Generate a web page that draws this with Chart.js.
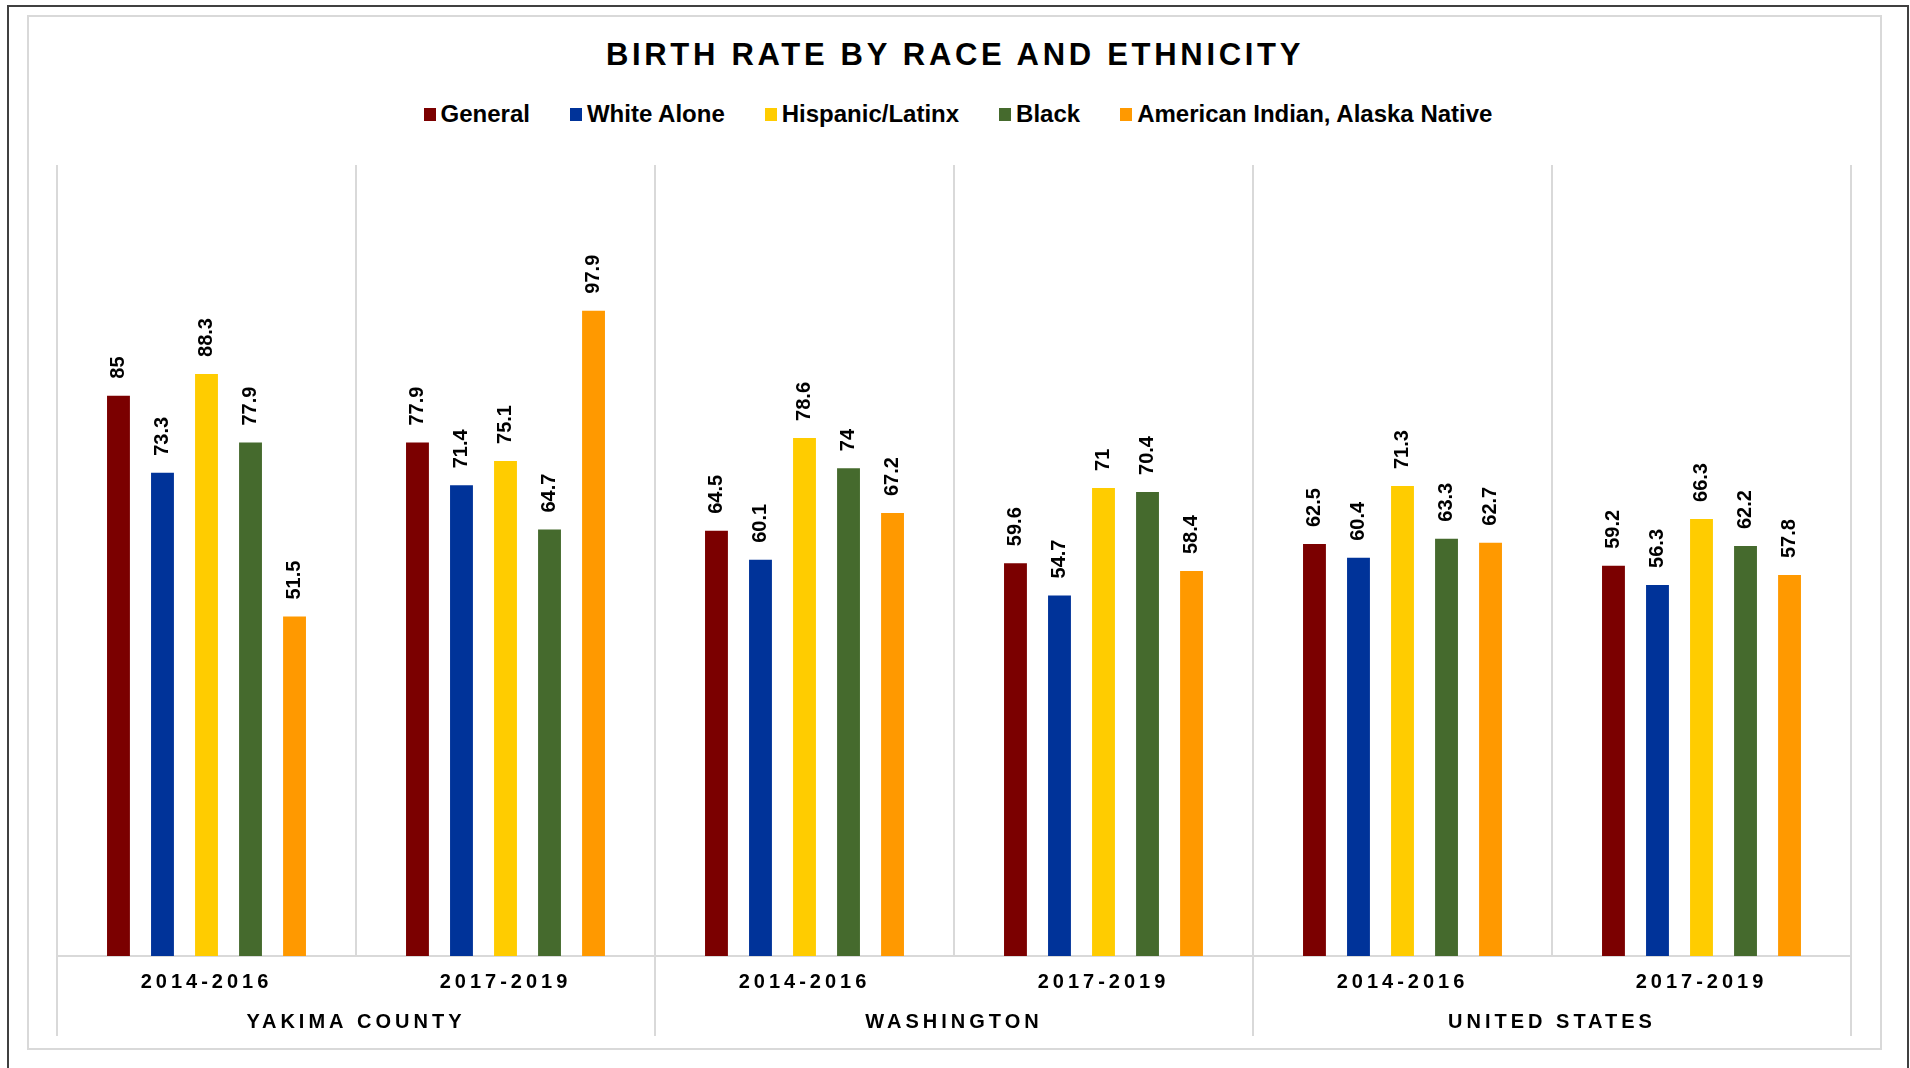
<!DOCTYPE html>
<html>
<head>
<meta charset="utf-8">
<title>Birth Rate by Race and Ethnicity</title>
<script src="https://cdn.jsdelivr.net/npm/chart.js@4.4.1/dist/chart.umd.min.js"></script>
<style>
    html, body { margin: 0; padding: 0; background: #ffffff; }
    body { position: relative; width: 1910px; height: 1068px; overflow: hidden;
           font-family: "Liberation Sans", Arial, sans-serif; color: #000; }
    .frame { position: absolute; left: 7px; top: 5px; width: 1902px; height: 1100px;
             border: 2px solid #404040; box-sizing: border-box; }
    .panel { position: absolute; left: 27px; top: 15px; width: 1855px; height: 1035px;
             border: 2px solid #d9d9d9; box-sizing: border-box; }
    .title { position: absolute; left: 0; top: 39px; width: 1910px; text-align: center;
             font-size: 31px; line-height: 31px; font-weight: bold; letter-spacing: 3.7px; }
    #legend { position: absolute; left: 3px; top: 102px; width: 1910px;
              display: flex; justify-content: center; }
    .legend-item { display: flex; align-items: center; height: 24px; margin: 0 20px;
                   font-size: 24px; line-height: 24px; font-weight: bold; }
    .legend-box { width: 12px; height: 13px; margin-right: 5px; }
    canvas { position: absolute; left: 0; top: 0; }
</style>
</head>
<body>
<div class="frame"></div>
<div class="panel"></div>
<div class="title">BIRTH RATE BY RACE AND ETHNICITY</div>
<div id="legend"></div>
<canvas id="birthChart" width="1910" height="1068"></canvas>

<script>
// Zeitraeume (untere Achse) und Regionen (zweite Achsenzeile)
var periods = ['2014-2016', '2017-2019', '2014-2016', '2017-2019', '2014-2016', '2017-2019'];
var regions = ['YAKIMA COUNTY', 'WASHINGTON', 'UNITED STATES'];

// Geburtenrate je Gruppe, in der Reihenfolge der Zeitraeume
var general        = [85, 77.9, 64.5, 59.6, 62.5, 59.2];
var whiteAlone     = [73.3, 71.4, 60.1, 54.7, 60.4, 56.3];
var hispanicLatinx = [88.3, 75.1, 78.6, 71, 71.3, 66.3];
var black          = [77.9, 64.7, 74, 70.4, 63.3, 62.2];
var americanIndian = [51.5, 97.9, 67.2, 58.4, 62.7, 57.8];

var seriesNames  = ['General', 'White Alone', 'Hispanic/Latinx', 'Black', 'American Indian, Alaska Native'];
var seriesValues = [general, whiteAlone, hispanicLatinx, black, americanIndian];
var seriesColors = ['#7b0000', '#003399', '#ffcc00', '#456a2d', '#ff9900'];

var yMax = 120;
var gridColor = '#d9d9d9';
var fontFamily = '"Liberation Sans", Arial, sans-serif';

document.addEventListener('DOMContentLoaded', function() {
    Chart.defaults.font.family = fontFamily;
    Chart.defaults.color = '#000';

    // Werte senkrecht ueber jedem Balken
    var barValueLabels = {
        id: 'barValueLabels',
        beforeDraw: function(chart) {
            // gesperrte Schrift fuer die Achsenbeschriftung
            chart.ctx.letterSpacing = '4px';
        },
        afterDatasetsDraw: function(chart) {
            var ctx = chart.ctx;
            ctx.save();
            ctx.letterSpacing = '0px';
            ctx.font = 'bold 20px ' + fontFamily;
            ctx.fillStyle = '#000';
            ctx.textAlign = 'left';
            ctx.textBaseline = 'middle';
            chart.data.datasets.forEach(function(ds, i) {
                chart.getDatasetMeta(i).data.forEach(function(bar, j) {
                    ctx.save();
                    ctx.translate(bar.x, bar.y - 17);
                    ctx.rotate(-Math.PI / 2);
                    ctx.fillText(String(ds.data[j]), 0, 0);
                    ctx.restore();
                });
            });
            ctx.restore();
        },
        afterDraw: function(chart) {
            chart.ctx.letterSpacing = '0px';
        }
    };

    // Regionsgrenzen unterhalb der Achse bis zur zweiten Zeile verlaengern
    var regionDividers = {
        id: 'regionDividers',
        afterDraw: function(chart) {
            var ctx = chart.ctx;
            var outer = chart.scales.x2;
            var step = outer.getPixelForValue(1) - outer.getPixelForValue(0);
            ctx.save();
            ctx.strokeStyle = gridColor;
            ctx.lineWidth = 2;
            ctx.beginPath();
            for (var i = 0; i <= regions.length; i++) {
                var px = Math.round(outer.getPixelForValue(i) - step / 2);
                ctx.moveTo(px, chart.chartArea.bottom);
                ctx.lineTo(px, outer.bottom);
            }
            ctx.stroke();
            ctx.restore();
        }
    };

    var datasets = seriesNames.map(function(name, i) {
        return {
            label: name,
            data: seriesValues[i],
            backgroundColor: seriesColors[i],
            borderWidth: 0,
            categoryPercentage: 0.736,
            barPercentage: 0.52
        };
    });

    var birthChart = new Chart(document.getElementById('birthChart').getContext('2d'), {
        type: 'bar',
        data: {
            labels: periods,
            datasets: datasets
        },
        options: {
            responsive: false,
            animation: false,
            layout: {
                padding: { left: 57, right: 59, top: 165, bottom: 32 }
            },
            plugins: {
                legend: { display: false },
                title: { display: false },
                tooltip: { enabled: false }
            },
            scales: {
                x: {
                    weight: 0,
                    offset: true,
                    grid: {
                        offset: true,
                        color: gridColor,
                        lineWidth: 2,
                        drawTicks: false
                    },
                    border: { color: gridColor, width: 2 },
                    ticks: {
                        font: { size: 20, weight: 'bold' },
                        padding: 14,
                        maxRotation: 0,
                        autoSkip: false
                    }
                },
                x2: {
                    type: 'category',
                    labels: regions,
                    position: 'bottom',
                    weight: 1,
                    offset: true,
                    grid: { display: false, drawTicks: false },
                    border: { display: false },
                    ticks: {
                        font: { size: 20, weight: 'bold' },
                        padding: 2,
                        maxRotation: 0,
                        autoSkip: false
                    }
                },
                y: {
                    display: false,
                    min: 0,
                    max: yMax
                }
            }
        },
        plugins: [barValueLabels, regionDividers]
    });

    // Legende aus den Datensaetzen aufbauen
    var legend = document.getElementById('legend');
    birthChart.data.datasets.forEach(function(ds) {
        var item = document.createElement('div');
        item.className = 'legend-item';
        var box = document.createElement('span');
        box.className = 'legend-box';
        box.style.background = ds.backgroundColor;
        var text = document.createElement('span');
        text.textContent = ds.label;
        item.appendChild(box);
        item.appendChild(text);
        legend.appendChild(item);
    });
});
</script>
</body>
</html>
